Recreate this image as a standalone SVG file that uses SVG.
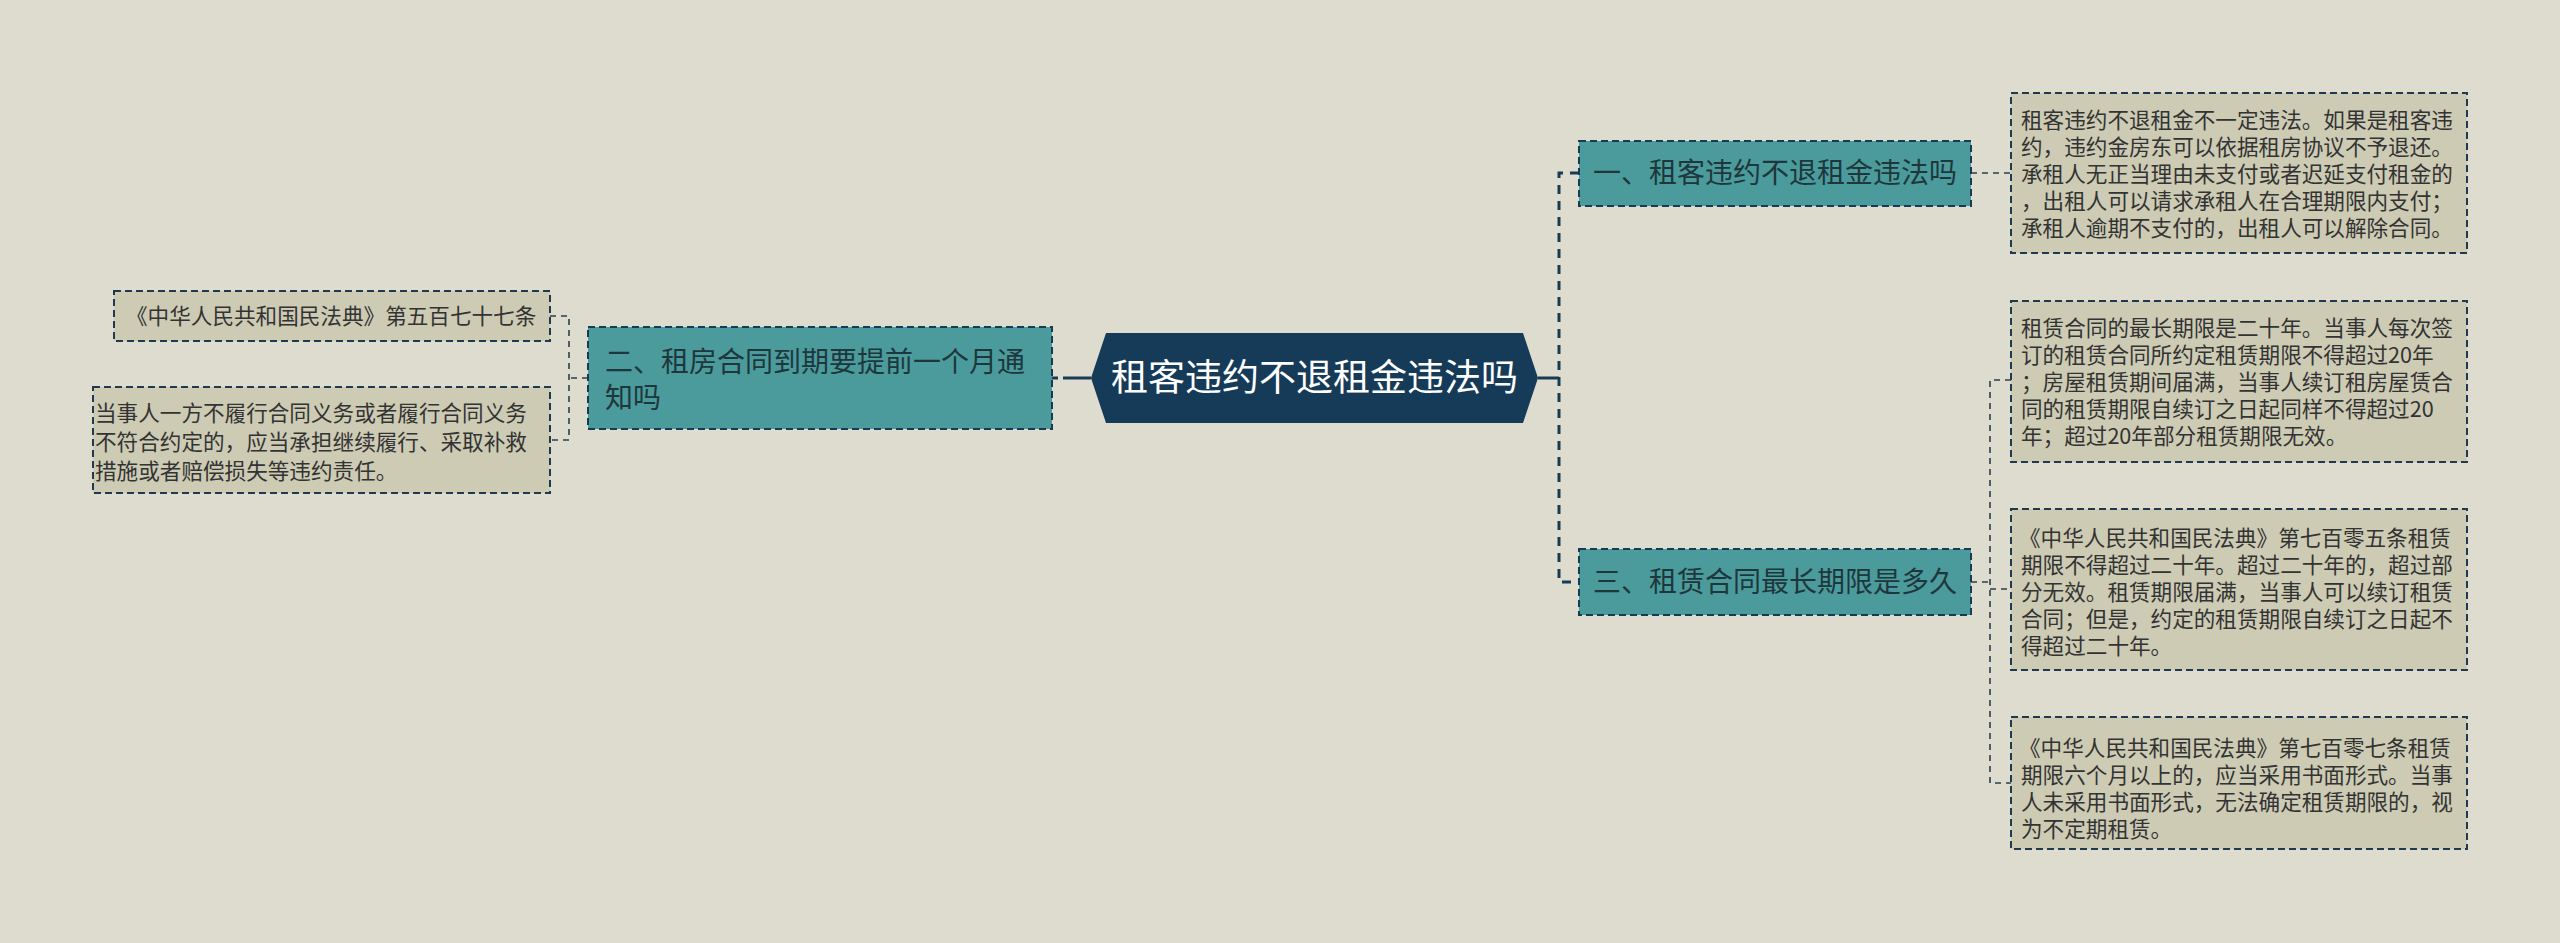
<svg xmlns="http://www.w3.org/2000/svg" width="2560" height="943" viewBox="0 0 2560 943">
<style>
.cjk{font-family:"Noto Sans CJK SC","Microsoft YaHei",sans-serif}
.topic{fill:#4b9b9c;stroke:#173a55;stroke-width:2;stroke-dasharray:7 4}
.detail{fill:#cdcbb4;stroke:#1f3a50;stroke-width:2;stroke-dasharray:7 4}
.tt{font-size:28px;fill:#1e373c}
.dt{font-size:21.6px;fill:#333333}
.main{fill:none;stroke:#173a55;stroke-width:3}
.spine{fill:none;stroke:#173a55;stroke-width:3;stroke-dasharray:9 7}
.thin{fill:none;stroke:#2b3f4e;stroke-width:1.6;stroke-dasharray:6 5}
</style>
<rect x="0" y="0" width="2560" height="943" fill="#dedcce"/>
<g id="connectors">
<path class="main" d="M1091 378 H1052" stroke-dasharray="28 5 6 100"/>
<path class="main" d="M1538 378 H1559"/>
<path class="spine" d="M1579 173 H1559 V582 H1579"/>
<path class="thin" d="M588 378 H569"/>
<path class="thin" d="M550 316 H569 V440 H550"/>
<path class="thin" d="M1971 173 H2011"/>
<path class="thin" d="M1971 582 H1990"/>
<path class="thin" d="M2011 380 H1990 V783 H2011"/>
<path class="thin" d="M1990 589 H2011"/>
</g>
<g id="center">
<polygon points="1091,378 1106,333 1523,333 1538,378 1523,423 1106,423" fill="#163b58"/>
<text class="cjk" x="1314.5" y="391" font-size="37" fill="#ffffff" text-anchor="middle">租客违约不退租金违法吗</text>
</g>
<g id="node1">
<rect class="topic" x="1579" y="141" width="392" height="65"/>
<text class="cjk tt" x="1593" y="183">一、租客违约不退租金违法吗</text>
</g>
<g id="node2">
<rect class="topic" x="588" y="327" width="464" height="102"/>
<text class="cjk tt" x="605" y="372">二、租房合同到期要提前一个月通</text>
<text class="cjk tt" x="605" y="408">知吗</text>
</g>
<g id="node3">
<rect class="topic" x="1579" y="549" width="392" height="66"/>
<text class="cjk tt" x="1593" y="592">三、租赁合同最长期限是多久</text>
</g>
<g id="detail1">
<rect class="detail" x="2011" y="93" width="456" height="160"/>
<text class="cjk dt" x="2021" y="128">租客违约不退租金不一定违法。如果是租客违</text>
<text class="cjk dt" x="2021" y="155">约，违约金房东可以依据租房协议不予退还。</text>
<text class="cjk dt" x="2021" y="182">承租人无正当理由未支付或者迟延支付租金的</text>
<text class="cjk dt" x="2021" y="209">，出租人可以请求承租人在合理期限内支付；</text>
<text class="cjk dt" x="2021" y="236">承租人逾期不支付的，出租人可以解除合同。</text>
</g>
<g id="detail2">
<rect class="detail" x="2011" y="301" width="456" height="161"/>
<text class="cjk dt" x="2021" y="336">租赁合同的最长期限是二十年。当事人每次签</text>
<text class="cjk dt" x="2021" y="363">订的租赁合同所约定租赁期限不得超过20年</text>
<text class="cjk dt" x="2021" y="390">；房屋租赁期间届满，当事人续订租房屋赁合</text>
<text class="cjk dt" x="2021" y="417">同的租赁期限自续订之日起同样不得超过20</text>
<text class="cjk dt" x="2021" y="444">年；超过20年部分租赁期限无效。</text>
</g>
<g id="detail3">
<rect class="detail" x="2011" y="509" width="456" height="161"/>
<text class="cjk dt" x="2019" y="546">《中华人民共和国民法典》第七百零五条租赁</text>
<text class="cjk dt" x="2021" y="573">期限不得超过二十年。超过二十年的，超过部</text>
<text class="cjk dt" x="2021" y="600">分无效。租赁期限届满，当事人可以续订租赁</text>
<text class="cjk dt" x="2021" y="627">合同；但是，约定的租赁期限自续订之日起不</text>
<text class="cjk dt" x="2021" y="654">得超过二十年。</text>
</g>
<g id="detail4">
<rect class="detail" x="2011" y="717" width="456" height="132"/>
<text class="cjk dt" x="2019" y="756">《中华人民共和国民法典》第七百零七条租赁</text>
<text class="cjk dt" x="2021" y="783">期限六个月以上的，应当采用书面形式。当事</text>
<text class="cjk dt" x="2021" y="810">人未采用书面形式，无法确定租赁期限的，视</text>
<text class="cjk dt" x="2021" y="837">为不定期租赁。</text>
</g>
<g id="left1">
<rect class="detail" x="114" y="291" width="436" height="50"/>
<text class="cjk dt" x="126" y="324">《中华人民共和国民法典》第五百七十七条</text>
</g>
<g id="left2">
<rect class="detail" x="93" y="387" width="457" height="106"/>
<text class="cjk dt" x="95" y="421" font-size="22">当事人一方不履行合同义务或者履行合同义务</text>
<text class="cjk dt" x="95" y="450" font-size="22">不符合约定的，应当承担继续履行、采取补救</text>
<text class="cjk dt" x="95" y="479" font-size="22">措施或者赔偿损失等违约责任。</text>
</g>
</svg>
